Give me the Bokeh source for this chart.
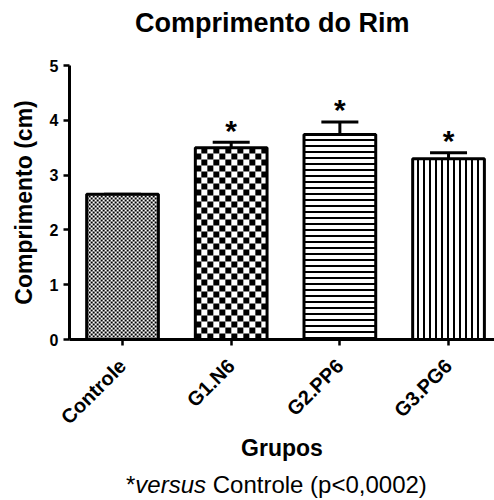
import numpy as np
from bokeh.plotting import figure
from bokeh.models import Range1d, FixedTicker, Whisker, TeeHead, ColumnDataSource, Div
from bokeh.layouts import column
from bokeh.core.properties import value
from bokeh.embed import file_html
from bokeh.resources import INLINE

# ---- data ----
title_text = "Comprimento do Rim"
categories = ["Controle", "G1.N6", "G2.PP6", "G3.PG6"]
means = [2.65, 3.50, 3.74, 3.30]
sems = [0.0, 0.10, 0.23, 0.11]
significance = ["", "*", "*", "*"]
y_ticks = [0, 1, 2, 3, 4, 5]

FONT = "Liberation Sans"

# ---- layout constants ----
W = 494
TITLE_H, FOOT_H = 40, 35
H = 500 - TITLE_H - FOOT_H
BORDER_L, BORDER_T, BORDER_R, BORDER_B = 69, 25, 0, 126
X0, X1 = -0.488, 3.423
Y0, Y1 = 0, 5
BAR_W = 0.66

xs = list(range(len(categories)))
upper = [m + s for m, s in zip(means, sems)]

patterns = ["blank", "blank", "horizontal_line", "vertical_line"]
checker_cell = [2, 6, 0, 0]   # px size of checker cells (0 = no checker)

src = ColumnDataSource(dict(x=xs, top=means, upper=upper, pat=patterns, sig=significance))

p = figure(width=W, height=H, output_backend="svg", toolbar_location=None,
           x_range=Range1d(X0, X1), y_range=Range1d(Y0, Y1),
           min_border_left=BORDER_L, min_border_top=BORDER_T, min_border_right=BORDER_R,
           min_border_bottom=BORDER_B, margin=0)
p.outline_line_color = None
p.background_fill_color = "white"
p.border_fill_color = "white"
p.grid.visible = False

# bar fill + line hatches
p.vbar(x="x", top="top", bottom=0, width=BAR_W, source=src,
       fill_color="white", line_color=None,
       hatch_pattern="pat", hatch_scale=6, hatch_weight=2, hatch_color="black")

# checker textures, cells derived from each bar's extent
frame_w = W - BORDER_L - BORDER_R
frame_h = H - BORDER_T - BORDER_B
px_x = frame_w / (X1 - X0)
px_y = frame_h / (Y1 - Y0)
L, R, B, T = [], [], [], []
for xi, top, c in zip(xs, means, checker_cell):
    if not c:
        continue
    left, right = xi - BAR_W / 2, xi + BAR_W / 2
    dx, dy = c / px_x, c / px_y
    ncol = int(np.ceil((right - left) / dx))
    nrow = int(np.ceil(top / dy))
    jj, kk = np.meshgrid(np.arange(ncol), np.arange(nrow))
    m = (jj + kk) % 2 == 0
    l = left + jj[m] * dx
    b = kk[m] * dy
    L += list(l)
    R += list(np.minimum(l + dx, right))
    B += list(b)
    T += list(np.minimum(b + dy, top))
p.quad(left=L, right=R, bottom=B, top=T, fill_color="black", line_color=None)

# bar outlines
p.vbar(x="x", top="top", bottom=0, width=BAR_W, source=src,
       fill_color=None, line_color="black", line_width=3)

w = Whisker(base="x", upper="upper", lower="top", source=src,
            line_color="black", line_width=3,
            upper_head=TeeHead(size=37, line_width=3, line_color="black"),
            lower_head=None)
p.add_layout(w)

p.text(x="x", y="upper", text="sig", source=src, text_align="center",
       text_baseline="middle", y_offset=-12, text_font=value(FONT),
       text_font_size="30px", text_font_style="bold", text_color="black")

# axes
for ax in (p.xaxis, p.yaxis):
    ax.axis_line_width = 3
    ax.axis_line_color = "black"
    ax.major_tick_line_width = 2.5
    ax.major_tick_line_color = "black"
    ax.major_tick_out = 6
    ax.major_tick_in = 0
    ax.minor_tick_line_color = None
    ax.major_label_text_font = FONT
    ax.major_label_text_font_style = "bold"
    ax.major_label_text_color = "black"
    ax.axis_label_text_font = FONT
    ax.axis_label_text_font_style = "bold"
    ax.axis_label_text_font_size = "23px"
    ax.axis_label_text_color = "black"

p.yaxis.ticker = FixedTicker(ticks=y_ticks)
p.yaxis.major_label_text_font_size = "16px"
p.yaxis.axis_label = "Comprimento (cm)"
p.yaxis.axis_label_standoff = 10
p.yaxis.major_label_standoff = 5

p.xaxis.ticker = FixedTicker(ticks=xs)
p.xaxis.major_label_overrides = {i: c for i, c in zip(xs, categories)}
p.xaxis.major_label_orientation = 0.785398
p.xaxis.major_label_text_font_size = "20px"
p.xaxis.major_label_standoff = 17
p.xaxis.axis_label = "Grupos"
p.xaxis.axis_label_standoff = -4

title = Div(text='<div style="font-family:\'Liberation Sans\';font-size:27px;line-height:27px;'
                 'font-weight:bold;padding-left:135px;padding-top:10px;color:black;white-space:nowrap;">'
                 + title_text + '</div>',
            width=W, height=TITLE_H, margin=0)

foot = Div(text='<div style="font-family:\'Liberation Sans\';font-size:24px;line-height:24px;'
                'padding-left:126px;padding-top:8px;color:black;white-space:nowrap;">'
                '*<i>versus</i> Controle (p&lt;0,0002)</div>',
           width=W, height=FOOT_H, margin=0)

layout = column(title, p, foot, spacing=0, margin=0)
open("out.html", "w").write(file_html(layout, INLINE))
